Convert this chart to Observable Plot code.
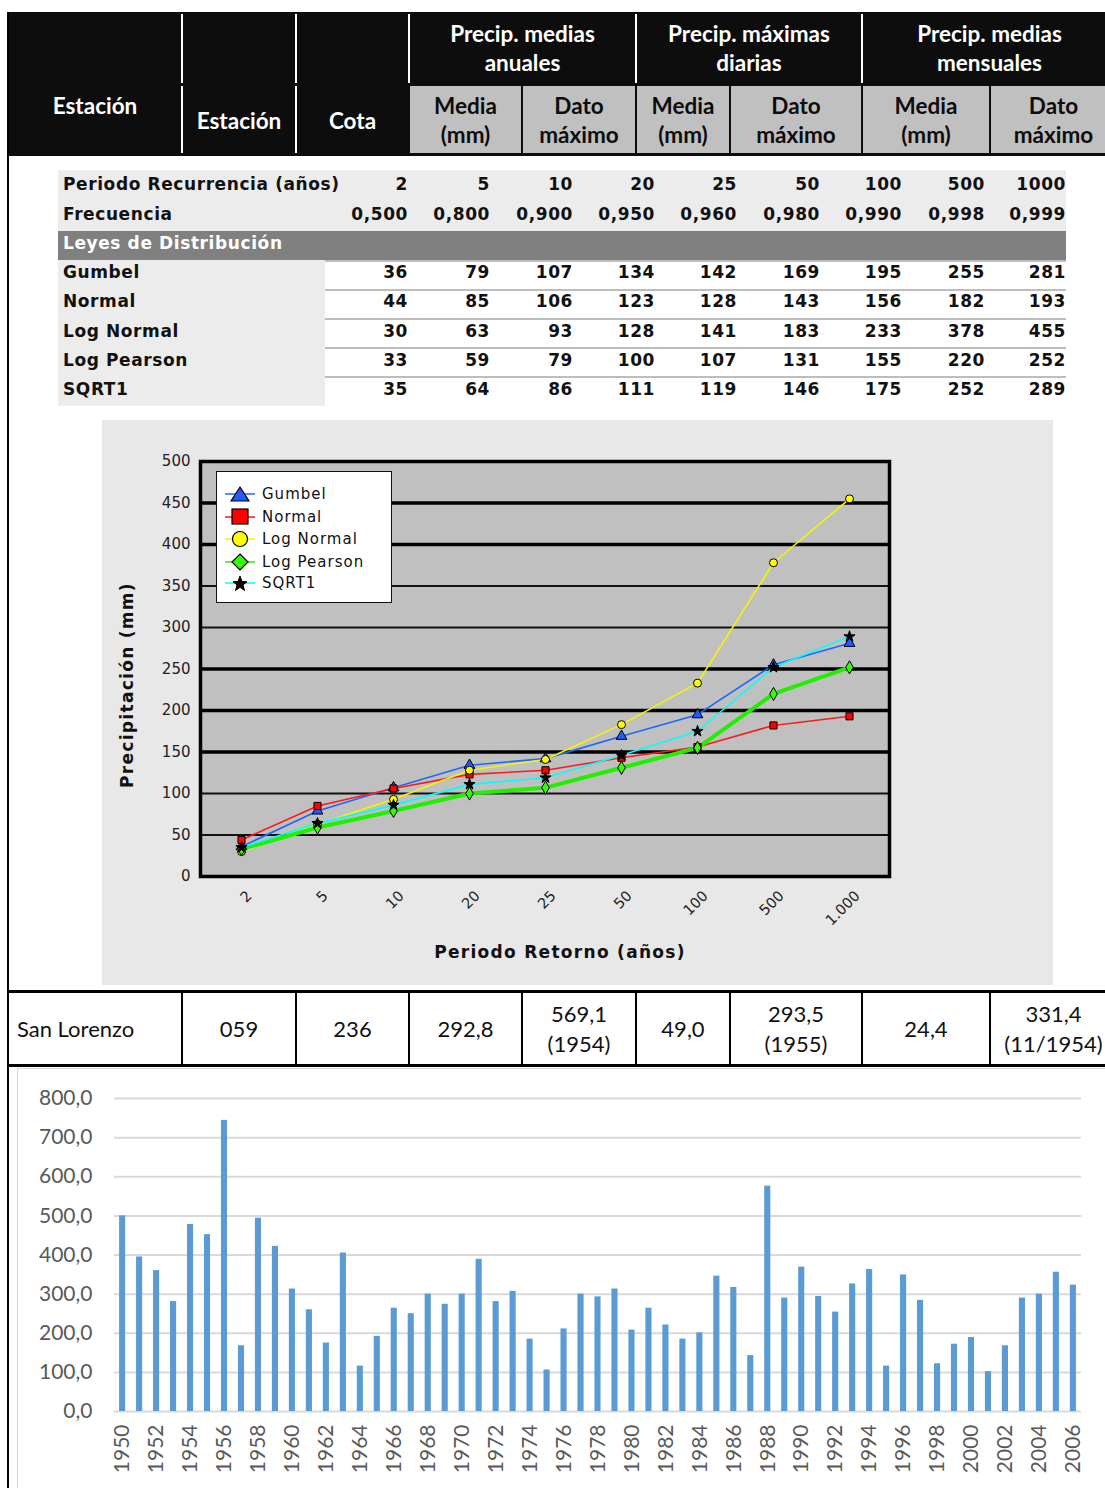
<!DOCTYPE html>
<html><head><meta charset="utf-8">
<script src="https://cdn.jsdelivr.net/npm/d3@7"></script>
<script src="https://cdn.jsdelivr.net/npm/@observablehq/plot@0.6"></script>
<style>
body{margin:0;background:#fff;}
#page{position:relative;width:1105px;height:1488px;overflow:hidden;font-family:Lato,"Open Sans",sans-serif;}
#page div{box-sizing:border-box;}
.c{display:flex;align-items:center;justify-content:center;text-align:center;}
</style></head><body><div id="page"></div>
<script>
// ---------- DATA ----------
const headerGroups = ["Precip. medias<br>anuales", "Precip. máximas<br>diarias", "Precip. medias<br>mensuales"];
const subHeaders = ["Media<br>(mm)", "Dato<br>máximo", "Media<br>(mm)", "Dato<br>máximo", "Media<br>(mm)", "Dato<br>máximo"];
const stationRow = ["San Lorenzo", "059", "236", "292,8", "569,1<br>(1954)", "49,0", "293,5<br>(1955)", "24,4", "331,4<br>(11/1954)"];

const periods = ["2", "5", "10", "20", "25", "50", "100", "500", "1000"];
const periodLabels = ["2", "5", "10", "20", "25", "50", "100", "500", "1.000"];
const frequencies = ["0,500", "0,800", "0,900", "0,950", "0,960", "0,980", "0,990", "0,998", "0,999"];
const seriesNames = ["Gumbel", "Normal", "Log Normal", "Log Pearson", "SQRT1"];
const gumbel = [36, 79, 107, 134, 142, 169, 195, 255, 281];
const normal = [44, 85, 106, 123, 128, 143, 156, 182, 193];
const logNormal = [30, 63, 93, 128, 141, 183, 233, 378, 455];
const logPearson = [33, 59, 79, 100, 107, 131, 155, 220, 252];
const sqrt1 = [35, 64, 86, 111, 119, 146, 175, 252, 289];
const lineYTicks = [0, 50, 100, 150, 200, 250, 300, 350, 400, 450, 500];
const gridThick = [150, 200, 250, 400, 450];
const gridThin = [50, 100, 300, 350];

const years = [1950,1951,1952,1953,1954,1955,1956,1957,1958,1959,1960,1961,1962,1963,1964,1965,1966,1967,1968,1969,
  1970,1971,1972,1973,1974,1975,1976,1977,1978,1979,1980,1981,1982,1983,1984,1985,1986,1987,1988,1989,
  1990,1991,1992,1993,1994,1995,1996,1997,1998,1999,2000,2001,2002,2003,2004,2005,2006];
const annualPrecip = [500,395,360,281,478,452,744,168,494,422,313,260,175,405,116,192,264,250,300,274,
  300,389,281,307,185,106,211,300,293,313,208,264,221,185,201,346,317,143,576,290,
  369,294,254,326,363,116,349,284,122,172,189,102,168,290,300,356,323];
const barYTicks = [0, 100, 200, 300, 400, 500, 600, 700, 800];

// ---------- LAYOUT HELPERS ----------
const page = document.getElementById("page");
function el(css, html, cls) {
  const e = document.createElement("div");
  e.style.cssText = "position:absolute;" + css;
  if (cls) e.className = cls;
  if (html != null) e.innerHTML = html;
  page.appendChild(e);
  return e;
}
const colEdges = [8, 182, 296, 409, 522, 636, 730, 862, 990, 1117];

// ---------- HEADER TABLE ----------
el("left:8px;top:12px;width:1110px;height:144px;background:#0d0d0d;");
[182, 296, 409, 636, 862].forEach(x => el(`left:${x - 1}px;top:14px;width:2px;height:69px;background:#fff;`));
[182, 296].forEach(x => el(`left:${x - 1}px;top:86px;width:2px;height:67px;background:#fff;`));
for (let i = 3; i < 9; i++) {
  el(`left:${colEdges[i] + 1}px;top:86px;width:${colEdges[i + 1] - colEdges[i] - 2}px;height:67px;background:#c0c0c0;`);
}
const hdrFont = "font-weight:700;font-size:22.5px;line-height:29px;";
[[3, 5], [5, 7], [7, 9]].forEach(([a, b], i) => {
  el(`left:${colEdges[a]}px;top:13px;width:${colEdges[b] - colEdges[a]}px;height:69px;color:#fff;${hdrFont}`, headerGroups[i], "c");
});
el(`left:8px;top:86px;width:174px;height:38px;color:#fff;${hdrFont}`, "Estación", "c");
el(`left:182px;top:86px;width:114px;height:68px;color:#fff;${hdrFont}`, "Estación", "c");
el(`left:296px;top:86px;width:113px;height:68px;color:#fff;${hdrFont}`, "Cota", "c");
subHeaders.forEach((t, i) => {
  el(`left:${colEdges[i + 3]}px;top:86px;width:${colEdges[i + 4] - colEdges[i + 3]}px;height:68px;color:#0d0d0d;${hdrFont}`, t, "c");
});

// ---------- OUTER BORDERS ----------
el("left:7px;top:12px;width:2px;height:1480px;background:#000;");
el("left:8px;top:990px;width:1110px;height:3px;background:#000;");
el("left:8px;top:1064px;width:1110px;height:3px;background:#000;");

// ---------- DISTRIBUTION TABLE ----------
const tFont = "font-family:'DejaVu Sans',Verdana,sans-serif;font-weight:700;font-size:17px;letter-spacing:0.6px;color:#111;white-space:nowrap;";
el("left:58px;top:170px;width:1008px;height:61px;background:#ececec;");
el("left:58px;top:231px;width:1008px;height:29px;background:#808080;");
el("left:58px;top:260px;width:267px;height:146px;background:#ececec;");
[260, 289, 318, 347, 376].forEach(y => el(`left:325px;top:${y}px;width:741px;height:2px;background:#bdbdbd;`));
el(`left:63px;top:229px;height:29px;line-height:29px;${tFont}color:#fff;`, "Leyes de Distribución");
const numRight = [408, 490, 573, 655, 737, 820, 902, 985, 1066];
function tableRow(label, vals, cy) {
  el(`left:63px;top:${cy - 12}px;height:24px;line-height:24px;${tFont}`, label);
  vals.forEach((v, i) => el(`left:${numRight[i] - 80}px;top:${cy - 12}px;width:80px;height:24px;line-height:24px;text-align:right;${tFont}`, String(v)));
}
tableRow("Periodo Recurrencia (años)", periods, 184);
tableRow("Frecuencia", frequencies, 214);
const allSeries = [gumbel, normal, logNormal, logPearson, sqrt1];
[272, 301, 331, 360, 389].forEach((cy, i) => tableRow(seriesNames[i], allSeries[i], cy));

// ---------- LINE CHART ----------
const panel = el("left:102px;top:420px;width:951px;height:565px;background:#e8e8e8;");
const styles = [
  {name: "Gumbel", data: gumbel, stroke: "#1f66ff", width: 1.6, symbol: "triangle", fill: "#1f5bff", r: 4},
  {name: "Normal", data: normal, stroke: "#ff1a1a", width: 1.6, symbol: "square", fill: "#ff0000", r: 4},
  {name: "Log Normal", data: logNormal, stroke: "#f5f500", width: 1.6, symbol: "circle", fill: "#ffff00", r: 4},
  {name: "Log Pearson", data: logPearson, stroke: "#22ee00", width: 4, symbol: "diamond", fill: "#33ff00", r: 4},
  {name: "SQRT1", data: sqrt1, stroke: "#00ffff", width: 1.6, symbol: "star", fill: "#000", r: 3.5}
];
const lineMarks = [];
styles.forEach(s => {
  const rows = s.data.map((v, i) => ({period: periodLabels[i], value: v}));
  lineMarks.push(Plot.line(rows, {x: "period", y: "value", stroke: s.stroke, strokeWidth: s.width}));
});
styles.forEach(s => {
  const rows = s.data.map((v, i) => ({period: periodLabels[i], value: v}));
  lineMarks.push(Plot.dot(rows, {x: "period", y: "value", symbol: s.symbol, fill: s.fill, stroke: "#000", strokeWidth: 1, r: s.r}));
});
const lineChart = Plot.plot({
  width: 951, height: 565,
  marginLeft: 98, marginRight: 164, marginTop: 41, marginBottom: 109,
  style: {background: "transparent", fontFamily: "'DejaVu Sans',Verdana,sans-serif", fontSize: "15px", color: "#222"},
  x: {type: "point", domain: periodLabels, padding: 0.5, label: null},
  y: {domain: [0, 500], label: null},
  marks: [
    Plot.frame({fill: "#c0c0c0"}),
    Plot.ruleY(gridThin, {stroke: "#111", strokeWidth: 2}),
    Plot.ruleY(gridThick, {stroke: "#000", strokeWidth: 3.5}),
    ...lineMarks,
    Plot.frame({stroke: "#000", strokeWidth: 3.5}),
    Plot.axisY({ticks: lineYTicks, tickSize: 0, tickPadding: 10, fontSize: 15, letterSpacing: "0.3px"}),
    Plot.axisX({tickSize: 0, tickRotate: -45, tickPadding: 8, fontSize: 14.5, dx: 8, dy: 9, letterSpacing: "1px"})
  ]
});
lineChart.style.position = "absolute";
lineChart.style.left = "0px";
lineChart.style.top = "0px";
panel.appendChild(lineChart);

const axTitle = "font-family:'DejaVu Sans',Verdana,sans-serif;font-weight:700;font-size:17px;letter-spacing:1.3px;color:#111;white-space:nowrap;";
el(`left:${127 - 150}px;top:${685 - 12}px;width:300px;height:24px;line-height:24px;text-align:center;transform:rotate(-90deg);${axTitle}`, "Precipitación (mm)");
el(`left:${560 - 200}px;top:${952 - 12}px;width:400px;height:24px;line-height:24px;text-align:center;${axTitle}`, "Periodo Retorno (años)");

// legend
const legend = el("left:216px;top:471px;width:176px;height:132px;background:#fff;border:1.5px solid #111;");
const legendY = [22, 45, 67, 90, 111];
const symSvg = {
  triangle: c => `<polygon points="15,2 24,16 6,16" fill="${c}" stroke="#000" stroke-width="1.2"/>`,
  square: c => `<rect x="7" y="1" width="16" height="15" fill="${c}" stroke="#000" stroke-width="1.2"/>`,
  circle: c => `<circle cx="15" cy="9" r="7.5" fill="${c}" stroke="#000" stroke-width="1.2"/>`,
  diamond: c => `<polygon points="15,1 23,9 15,17 7,9" fill="${c}" stroke="#000" stroke-width="1.2"/>`,
  star: c => `<polygon points="15,2 17,7.5 22,7.8 18,11 19.5,16.5 15,13.3 10.5,16.5 12,11 8,7.8 13,7.5" fill="${c}" stroke="#000" stroke-width="1"/>`
};
styles.forEach((s, i) => {
  const row = document.createElement("div");
  row.style.cssText = `position:absolute;left:8px;top:${legendY[i] - 10}px;height:20px;display:flex;align-items:center;`;
  row.innerHTML = `<svg width="32" height="18" style="display:block"><line x1="0" y1="9" x2="30" y2="9" stroke="${s.stroke}" stroke-width="1.5"/>${symSvg[s.symbol](s.fill)}</svg>` +
    `<span style="margin-left:5px;font-family:'DejaVu Sans',Verdana,sans-serif;font-size:15px;letter-spacing:1px;color:#111;">${s.name}</span>`;
  legend.appendChild(row);
});

// ---------- STATION ROW ----------
colEdges.slice(1, 9).forEach(x => el(`left:${x - 1}px;top:992px;width:2px;height:74px;background:#000;`));
stationRow.forEach((t, i) => {
  const x0 = colEdges[i], x1 = colEdges[i + 1];
  const align = i === 0 ? "justify-content:flex-start;padding-left:9px;" : "";
  el(`left:${x0}px;top:993px;width:${x1 - x0}px;height:71px;font-size:22px;line-height:30px;color:#111;${align}`, t, "c");
});

// ---------- BAR CHART ----------
el("left:17px;top:1068px;width:1100px;height:430px;border:1.5px solid #d9d9d9;");
const barRows = years.map((y, i) => ({year: y, value: annualPrecip[i]}));
const barChart = Plot.plot({
  width: 1105, height: 418,
  marginLeft: 114, marginRight: 24, marginTop: 28, marginBottom: 77,
  style: {background: "transparent", fontFamily: "Lato,'Open Sans',sans-serif", fontSize: "21px", color: "#595959"},
  x: {type: "band", domain: years, paddingInner: 0.64, paddingOuter: 0.3, label: null},
  y: {domain: [0, 800], label: null},
  marks: [
    Plot.ruleY(barYTicks, {stroke: "#d9d9d9", strokeWidth: 2}),
    Plot.barY(barRows, {x: "year", y: "value", fill: "#5b9bd5"}),
    Plot.axisY({ticks: barYTicks, tickSize: 0, tickPadding: 22, fontSize: 21, tickFormat: d => d.toFixed(1).replace(".", ",")}),
    Plot.axisX({ticks: years.filter(y => y % 2 === 0), tickSize: 0, tickRotate: -90, tickPadding: 13, fontSize: 21, tickFormat: d => String(d)})
  ]
});
barChart.style.position = "absolute";
barChart.style.left = "0px";
barChart.style.top = "1070px";
page.appendChild(barChart);
</script>
</body></html>
